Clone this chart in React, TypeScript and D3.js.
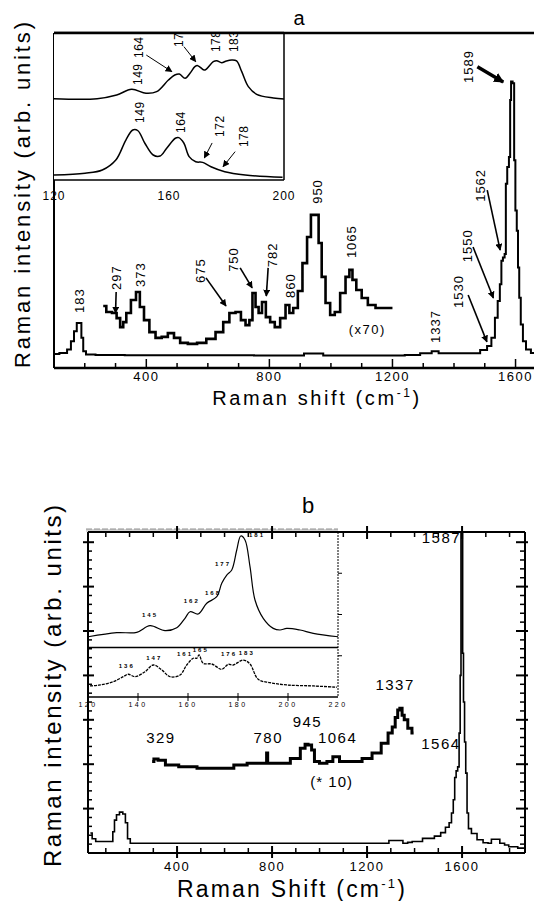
import React from "react";
import * as d3 from "d3";

type P = [number, number];

// ---------- Panel a data ----------
const aSpectrum: P[] = [
  [100, 4.2], [135, 4.5], [150, 5.5], [160, 8], [170, 11], [178, 13.4], [186, 13.4], [192, 9], [198, 5], [210, 4.0],
  [260, 3.9], [400, 3.8], [600, 3.8], [900, 3.7], [925, 4.3], [970, 4.3], [980, 3.7], [1200, 3.7], [1280, 3.9],
  [1300, 4.4], [1325, 4.4], [1330, 5.0], [1348, 5.0], [1352, 4.4], [1470, 4.4], [1500, 5.4], [1515, 6.6], [1528, 9],
  [1538, 15], [1546, 20], [1552, 25], [1556, 32], [1562, 33], [1567, 34], [1570, 55], [1576, 60], [1581, 63],
  [1584, 80], [1587, 85.5], [1594, 85], [1597, 62], [1602, 47], [1606, 41], [1610, 30], [1614, 21], [1620, 13],
  [1628, 8], [1640, 5.5], [1660, 4.5],
];
const aSpectrumX70: P[] = [
  [260, 18.5], [280, 16.7], [297, 16.4], [310, 14.9], [320, 12.2], [330, 13.7], [340, 16.4], [360, 20.3], [373, 22.7],
  [385, 18.2], [400, 14.3], [420, 10.7], [440, 9.0], [460, 9.3], [480, 10.4], [500, 9.0], [520, 7.5], [550, 7.2],
  [580, 7.5], [610, 8.7], [640, 10.7], [660, 13.7], [680, 16.4], [700, 16.7], [715, 14.3], [730, 12.8], [740, 14.3],
  [750, 22.4], [760, 18.2], [770, 16.4], [782, 19.7], [795, 15.2], [810, 13.7], [825, 12.2], [845, 14.9], [860, 18.8],
  [870, 16.4], [885, 17.9], [900, 23], [915, 31.3], [930, 39.1], [940, 45.7], [955, 45.7], [965, 37.3], [975, 27.2],
  [990, 19.4], [1005, 15.8], [1020, 16.7], [1040, 22.4], [1055, 27.2], [1065, 29.3], [1075, 26.3], [1090, 23.3],
  [1110, 20.9], [1130, 18.8], [1160, 17.9], [1200, 17.9],
];
const aInsetUpper: P[] = [
  [120, 55.3], [135, 55.3], [141.8, 57.8], [147, 61.7], [152, 59], [155.7, 60.1], [159.8, 68], [162, 71.4],
  [163.6, 72.1], [165.6, 69.2], [167.3, 72.6], [169, 77.1], [170, 77.8], [172.2, 74.8], [173, 75.5], [175.4, 80.5],
  [176.6, 81.2], [178.3, 79.8], [180, 81], [181.8, 81.6], [183.5, 81], [185.3, 73.7], [187.6, 63.5], [190.5, 58.3],
  [196.3, 55.8], [200, 55.1],
];
const aInsetLower: P[] = [
  [120, 3.4], [130.8, 4.6], [136.8, 6.8], [141.5, 13.6], [145, 27.2], [147.4, 34], [149.2, 33.5], [151.6, 25],
  [154.5, 17], [156.9, 16.3], [159.2, 21.6], [162.2, 28.4], [163.4, 28.8], [165.2, 25], [167, 15.9], [169.3, 12.4],
  [171.7, 12], [174.6, 9], [179.4, 5.6], [186.5, 3.4], [199.5, 1.8],
];
const aTickValues = [200, 300, 400, 500, 600, 700, 800, 900, 1000, 1100, 1200, 1300, 1400, 1500, 1600];
const aTickLabels = ["400", "800", "1200", "1600"];
const aInsetTickLabels = ["120", "160", "200"];
// peak labels: text, shift, intensity (bottom of rotated text)
const aPeakLabels: [string, number, number][] = [
  ["183", 181, 16.4], ["297", 304, 23.3], ["373", 380, 24.2], ["675", 575, 25.4], ["750", 682, 28.7],
  ["782", 809, 30.1], ["860", 867, 20.9], ["950", 955, 49], ["1065", 1066, 32.8], ["1337", 1339, 7.5],
  ["1530", 1414, 17.9], ["1550", 1443, 31.6], ["1562", 1485, 49.6], ["1589", 1446, 85.1],
];
// arrows: from shift, from intensity, to shift, to intensity
const aArrows: [number, number, number, number][] = [
  [302, 22.7, 300, 16.4], [594, 26.9, 659, 18.5], [705, 29.9, 744, 23.9], [796, 29.9, 790, 21.5],
  [1446, 21.8, 1507, 7.8], [1462, 36.1, 1528, 20.9], [1508, 53.1, 1550, 35.2],
];
const aThickArrow: [number, number, number, number] = [1476, 89.9, 1560, 85.4];
const aInsetLabels: [string, number, number][] = [
  ["149", 149.8, 38.8], ["164", 164, 32], ["172", 177.6, 29.3], ["178", 185.9, 22.4],
  ["149", 149.2, 64.6], ["164", 149.6, 83], ["172", 163.4, 90.5], ["178", 176.3, 87], ["183", 182.6, 87],
];
const aInsetArrows: [number, number, number, number][] = [
  [175, 25.2, 172.3, 15], [183, 19.3, 178.8, 9], [152.1, 85, 161, 73.7], [165.2, 90.7, 169.3, 80.5],
];

// ---------- Panel b data ----------
const bSpectrum: P[] = [
  [35, 4.5], [50, 3.2], [65, 2.6], [126, 2.6], [133, 4.8], [140, 7.4], [150, 8.6], [165, 9.2], [178, 8.8],
  [187, 6.8], [196, 3.2], [210, 2.2], [1284, 2.2], [1300, 2.8], [1340, 2.8], [1362, 2.2], [1380, 2.4], [1400, 2.6],
  [1467, 3.3], [1500, 3.8], [1520, 4.6], [1540, 5.8], [1551, 6.8], [1560, 9.0], [1566, 12], [1572, 17], [1578, 18.5],
  [1585, 19.4], [1590, 27], [1594, 40], [1597, 72], [1601, 72], [1604, 45], [1608, 34], [1613, 25], [1618, 18],
  [1624, 9], [1630, 5.5], [1649, 4.4], [1677, 3.0], [1700, 2.3], [1719, 2.2], [1728, 3.1], [1750, 3.1], [1768, 2.2],
  [1790, 1.8], [1803, 1.4], [1866, 1.1],
];
const bSpectrumX10: P[] = [
  [295, 20.6], [310, 21.2], [330, 20.9], [372, 19.8], [442, 19.4], [526, 19.1], [611, 19.1], [667, 19.8],
  [723, 20.2], [775, 20.2], [779, 22.5], [784, 20.2], [849, 20.2], [905, 21.3], [933, 23.6], [945, 24.5],
  [958, 24.3], [975, 23.2], [982, 20.6], [1017, 20.2], [1045, 20.6], [1067, 21.7], [1101, 20.6], [1158, 20.6],
  [1200, 21.3], [1242, 22.5], [1277, 24.7], [1300, 27], [1312, 28.4], [1325, 30.5], [1333, 32.2], [1343, 32.6],
  [1352, 31], [1361, 30], [1382, 28.1], [1396, 27.0],
];
const bInsetUpper: P[] = [
  [120.1, 36.5], [131.5, 39], [139.5, 39.2], [144.8, 43.2], [150.8, 40.2], [155.5, 42], [158.8, 47.7],
  [160.8, 51.7], [164.1, 50.3], [167.5, 56.8], [171.5, 60.8], [173.5, 68.9], [175.5, 73.9], [177.5, 77],
  [179.5, 89.1], [181.1, 97.6], [182.8, 95.2], [184.8, 79], [186.8, 58.8], [190.1, 47.7], [194.1, 41.6],
  [196.8, 40.6], [199.5, 41.6], [204.8, 40.6], [210.1, 38.6], [220, 36.5],
];
const bInsetLower: P[] = [
  [120.8, 6.7], [124.8, 7.3], [130.1, 9.3], [134.1, 12.3], [136.1, 13.8], [138.8, 12.3], [142.8, 15.3],
  [146.1, 19.4], [149.5, 16.4], [152.8, 12.3], [156.8, 13.3], [159.5, 19.4], [162.1, 23.5], [163.5, 23.5],
  [164.4, 25.5], [166.1, 20.4], [169.5, 20], [173.5, 16.8], [176.1, 19.8], [178.1, 19.4], [182.1, 22.4],
  [184.8, 20], [188.1, 10.7], [192.8, 8.7], [199.5, 7.3], [210.1, 6.7], [219.5, 5.9],
];
const bTickValues = [100, 200, 300, 400, 500, 600, 700, 800, 900, 1000, 1100, 1200, 1300, 1400, 1500, 1600, 1700, 1800];
const bTickLabels = ["400", "800", "1200", "1600"];
const bYTicks = d3.range(2, 72, 2);
const bInsetTicks = [120, 140, 160, 180, 200, 220];
const bInsetTickLabels = ["120", "140", "160", "180", "200", "220"];
const bPeakLabels: [string, number, number][] = [
  ["329", 332, 24.7], ["780", 784, 24.7], ["945", 949, 28.4], ["1064", 1076, 24.8], ["1337", 1318, 36.7],
  ["1564", 1511, 23.4],
];
const bInsetLabels: [string, number, number][] = [
  ["145", 144.8, 48.5], ["162", 161.5, 57], ["168", 170, 61.8], ["177", 174, 79.4], ["181", 187.6, 97],
  ["136", 135.5, 17.6], ["147", 146.5, 22.4], ["161", 158.8, 24.8], ["165", 165.1, 27.5], ["176", 176.4, 24.8],
  ["183", 183.5, 25.5],
];

// ---------- scales ----------
const W = 534;
const H = 901;
const xA = d3.scaleLinear().domain([100, 1660]).range([54, 534]);
const yA = d3.scaleLinear().domain([0, 100]).range([368, 33]);
const xAi = d3.scaleLinear().domain([120, 200]).range([54, 284]);
const yAi = d3.scaleLinear().domain([0, 100]).range([180, 33]);
const xB = d3.scaleLinear().domain([25, 1865]).range([88, 525]);
const yB = d3.scaleLinear().domain([0, 72.3]).range([853, 532]);
const xBi = d3.scaleLinear().domain([120, 220]).range([88, 338]);
const yBi = d3.scaleLinear().domain([0, 100]).range([697, 532]);

const FONT = "'Liberation Sans', Arial, Helvetica, sans-serif";

function RotText({ x, y, t, size = 13, ls = 1 }: { x: number; y: number; t: string; size?: number; ls?: number }) {
  return (
    <text transform={`translate(${x},${y}) rotate(-90)`} dy="0.36em" fontSize={size} letterSpacing={ls}>
      {t}
    </text>
  );
}

export default function App() {
  const lineA = d3.line<P>().x((d) => xA(d[0])).y((d) => yA(d[1])).curve(d3.curveStep);
  const lineAi = d3.line<P>().x((d) => xAi(d[0])).y((d) => yAi(d[1])).curve(d3.curveCatmullRom);
  const lineB = d3.line<P>().x((d) => xB(d[0])).y((d) => yB(d[1])).curve(d3.curveStep);
  const lineBi = d3.line<P>().x((d) => xBi(d[0])).y((d) => yBi(d[1])).curve(d3.curveCatmullRom);

  const aBottom = yA(0);
  const bBottom = yB(0);
  const bTop = yB(72.3);

  return (
    <svg
      width={W}
      height={H}
      viewBox={`0 0 ${W} ${H}`}
      style={{ position: "absolute", left: 0, top: 0, background: "#fff" }}
      fontFamily={FONT}
    >
      <defs>
        <marker id="ah" viewBox="0 0 10 10" refX="9" refY="5" markerWidth="7" markerHeight="7" markerUnits="userSpaceOnUse" orient="auto">
          <path d="M0,0 L10,5 L0,10 z" fill="#000" />
        </marker>
        <marker id="ahBig" viewBox="0 0 10 10" refX="9" refY="5" markerWidth="10" markerHeight="10" markerUnits="userSpaceOnUse" orient="auto">
          <path d="M0,0 L10,5 L0,10 z" fill="#000" />
        </marker>
        <clipPath id="clipAi">
          <rect x={xAi(120)} y={yAi(100) + 1} width={xAi(200) - xAi(120)} height={yAi(0) - yAi(100)} />
        </clipPath>
      </defs>
      <rect x={0} y={0} width={W} height={H} fill="#fff" />

      {/* ================= Panel a ================= */}
      <text x={299} y={25} fontSize={20} textAnchor="middle">a</text>
      {/* frame */}
      <line x1={xA(100)} x2={W} y1={yA(100)} y2={yA(100)} stroke="#000" strokeWidth={2.5} />
      <line x1={xA(100)} x2={xA(100)} y1={yA(100)} y2={aBottom} stroke="#000" strokeWidth={2} />
      <line x1={xA(100)} x2={W} y1={aBottom} y2={aBottom} stroke="#000" strokeWidth={2.5} />
      {aTickValues.map((v) => (
        <line key={v} x1={xA(v)} x2={xA(v)} y1={aBottom} y2={aBottom - (v % 400 === 0 ? 9 : 5)} stroke="#000" strokeWidth={1.5} />
      ))}
      {aTickLabels.map((t) => (
        <text key={t} x={xA(+t)} y={aBottom + 13} fontSize={13} textAnchor="middle" letterSpacing={1.5}>{t}</text>
      ))}
      <text x={317} y={405} fontSize={20} textAnchor="middle" letterSpacing={2.6}>
        Raman shift (cm<tspan fontSize={12} dy={-8}>-1</tspan><tspan dy={8}>)</tspan>
      </text>
      <text transform="translate(30,195) rotate(-90)" fontSize={22} textAnchor="middle" textLength={346} lengthAdjust="spacing">
        Raman intensity (arb. units)
      </text>

      {/* spectra */}
      <path d={lineA(aSpectrum) ?? ""} fill="none" stroke="#000" strokeWidth={2} />
      <path d={lineA(aSpectrumX70) ?? ""} fill="none" stroke="#000" strokeWidth={2.6} />

      {aPeakLabels.map(([t, v, i], k) => (
        <RotText key={k} x={xA(v)} y={yA(i)} t={t} />
      ))}
      <text x={xA(1118)} y={yA(10.1)} fontSize={13} textAnchor="middle" letterSpacing={1.5}>(x70)</text>
      {aArrows.map(([v1, i1, v2, i2], k) => (
        <line key={k} x1={xA(v1)} y1={yA(i1)} x2={xA(v2)} y2={yA(i2)} stroke="#000" strokeWidth={1.6} markerEnd="url(#ah)" />
      ))}
      <line x1={xA(aThickArrow[0])} y1={yA(aThickArrow[1])} x2={xA(aThickArrow[2])} y2={yA(aThickArrow[3])} stroke="#000" strokeWidth={3.5} markerEnd="url(#ahBig)" />

      {/* inset a */}
      <rect x={xAi(120)} y={yAi(100)} width={xAi(200) - xAi(120)} height={yAi(0) - yAi(100)} fill="#fff" stroke="none" />
      <line x1={xAi(200)} x2={xAi(200)} y1={yAi(100)} y2={yAi(0)} stroke="#000" strokeWidth={1.5} />
      <line x1={xAi(120)} x2={xAi(200)} y1={yAi(0)} y2={yAi(0)} stroke="#000" strokeWidth={1.5} />
      <line x1={xA(100)} x2={xAi(200)} y1={yA(100)} y2={yA(100)} stroke="#000" strokeWidth={2.5} />
      <path d={lineAi(aInsetUpper) ?? ""} fill="none" stroke="#000" strokeWidth={1.5} />
      <path d={lineAi(aInsetLower) ?? ""} fill="none" stroke="#000" strokeWidth={1.5} />
      <g clipPath="url(#clipAi)">
        {aInsetLabels.map(([t, v, i], k) => (
          <RotText key={k} x={xAi(v)} y={yAi(i)} t={t} size={12} ls={0.5} />
        ))}
      </g>
      {aInsetArrows.map(([v1, i1, v2, i2], k) => (
        <line key={k} x1={xAi(v1)} y1={yAi(i1)} x2={xAi(v2)} y2={yAi(i2)} stroke="#000" strokeWidth={1} markerEnd="url(#ah)" />
      ))}
      {aInsetTickLabels.map((t) => (
        <text key={t} x={xAi(+t)} y={yAi(0) + 20} fontSize={12} textAnchor="middle" letterSpacing={1}>{t}</text>
      ))}

      {/* ================= Panel b ================= */}
      <text x={308} y={513} fontSize={22} textAnchor="middle">b</text>
      {/* frame */}
      <rect x={86} y={bTop - 3} width={xBi(220) - 86} height={3} fill="#d4d4d4" />
      <line x1={86} x2={xBi(220)} y1={bTop - 3} y2={bTop - 3} stroke="#777" strokeWidth={0.8} strokeDasharray="6 2" />
      <line x1={xB(25)} x2={xB(1865)} y1={bTop} y2={bTop} stroke="#000" strokeWidth={2} />
      <line x1={xB(25)} x2={xB(1865)} y1={bBottom} y2={bBottom} stroke="#000" strokeWidth={2} />
      <line x1={xB(25)} x2={xB(25)} y1={bTop} y2={bBottom} stroke="#000" strokeWidth={2} />
      <line x1={xB(1865)} x2={xB(1865)} y1={bTop} y2={bBottom} stroke="#000" strokeWidth={2} />
      {bTickValues.map((v) => {
        const major = v % 400 === 0;
        return (
          <g key={v}>
            <line x1={xB(v)} x2={xB(v)} y1={bBottom + (major ? 5 : 0)} y2={bBottom - (major ? 7 : 5)} stroke="#000" strokeWidth={major ? 2 : 1.5} />
            <line x1={xB(v)} x2={xB(v)} y1={bTop - (major ? 6 : 0)} y2={bTop + (major ? 7 : 5)} stroke="#000" strokeWidth={major ? 2 : 1.5} />
          </g>
        );
      })}
      {bYTicks.map((i) => {
        const major = i % 10 === 0;
        return (
          <g key={i}>
            <line x1={xB(25) - (major ? 5 : 0)} x2={xB(25) + (major ? 6 : 4)} y1={yB(i)} y2={yB(i)} stroke="#000" strokeWidth={major ? 2 : 1.5} />
            <line x1={xB(1865) + (major ? 3 : 0)} x2={xB(1865) - (major ? 9 : 5)} y1={yB(i)} y2={yB(i)} stroke="#000" strokeWidth={major ? 2 : 1.5} />
          </g>
        );
      })}
      {bTickLabels.map((t) => (
        <text key={t} x={xB(+t)} y={bBottom + 18} fontSize={13} textAnchor="middle" letterSpacing={1.5}>{t}</text>
      ))}
      <text x={292} y={897} fontSize={23} textAnchor="middle" letterSpacing={2.2}>
        Raman Shift (cm<tspan fontSize={13} dy={-9}>-1</tspan><tspan dy={9}>)</tspan>
      </text>
      <text transform="translate(61,686) rotate(-90)" fontSize={24} textAnchor="middle" textLength={362} lengthAdjust="spacing">
        Raman intensity (arb. units)
      </text>

      {/* inset b */}
      <line x1={xBi(220)} x2={xBi(220)} y1={yBi(100)} y2={yBi(0)} stroke="#000" strokeWidth={1} strokeDasharray="2 1" />
      <line x1={xBi(120)} x2={xBi(220)} y1={yBi(30)} y2={yBi(30)} stroke="#000" strokeWidth={1.3} />
      <line x1={xBi(120)} x2={xBi(220)} y1={yBi(0)} y2={yBi(0)} stroke="#000" strokeWidth={1.3} />
      {[25, 50, 75].map((i) => (
        <line key={i} x1={xBi(220)} x2={xBi(220) + 4} y1={yBi(i)} y2={yBi(i)} stroke="#000" strokeWidth={1} />
      ))}
      {bInsetTicks.slice(1, -1).map((v) => (
        <line key={v} x1={xBi(v)} x2={xBi(v)} y1={yBi(0) - 4} y2={yBi(0) + 4} stroke="#000" strokeWidth={1} />
      ))}
      {bInsetTickLabels.map((t) => (
        <text key={t} x={xBi(+t)} y={yBi(0) + 10} fontSize={7} textAnchor="middle" letterSpacing={2.5}>{t}</text>
      ))}
      <path d={lineBi(bInsetUpper) ?? ""} fill="none" stroke="#000" strokeWidth={1.2} />
      <path d={lineBi(bInsetLower) ?? ""} fill="none" stroke="#000" strokeWidth={1.3} strokeDasharray="3 1" />
      {bInsetLabels.map(([t, v, i], k) => (
        <text key={k} x={xBi(v)} y={yBi(i)} fontSize={6} textAnchor="middle" letterSpacing={2} fontWeight="bold">{t}</text>
      ))}

      {/* spectra */}
      <path d={lineB(bSpectrum) ?? ""} fill="none" stroke="#000" strokeWidth={1.6} />
      <path d={lineB(bSpectrumX10) ?? ""} fill="none" stroke="#000" strokeWidth={3} />
      {bPeakLabels.map(([t, v, i], k) => (
        <text key={k} x={xB(v)} y={yB(i)} fontSize={15} textAnchor="middle" letterSpacing={1.5}>{t}</text>
      ))}
      <text x={xB(1596)} y={yB(69.8)} fontSize={15} textAnchor="end" letterSpacing={1.5}>1587</text>
      <text x={xB(1051)} y={yB(14.8)} fontSize={15} textAnchor="middle" letterSpacing={1}>(*  10)</text>
    </svg>
  );
}
